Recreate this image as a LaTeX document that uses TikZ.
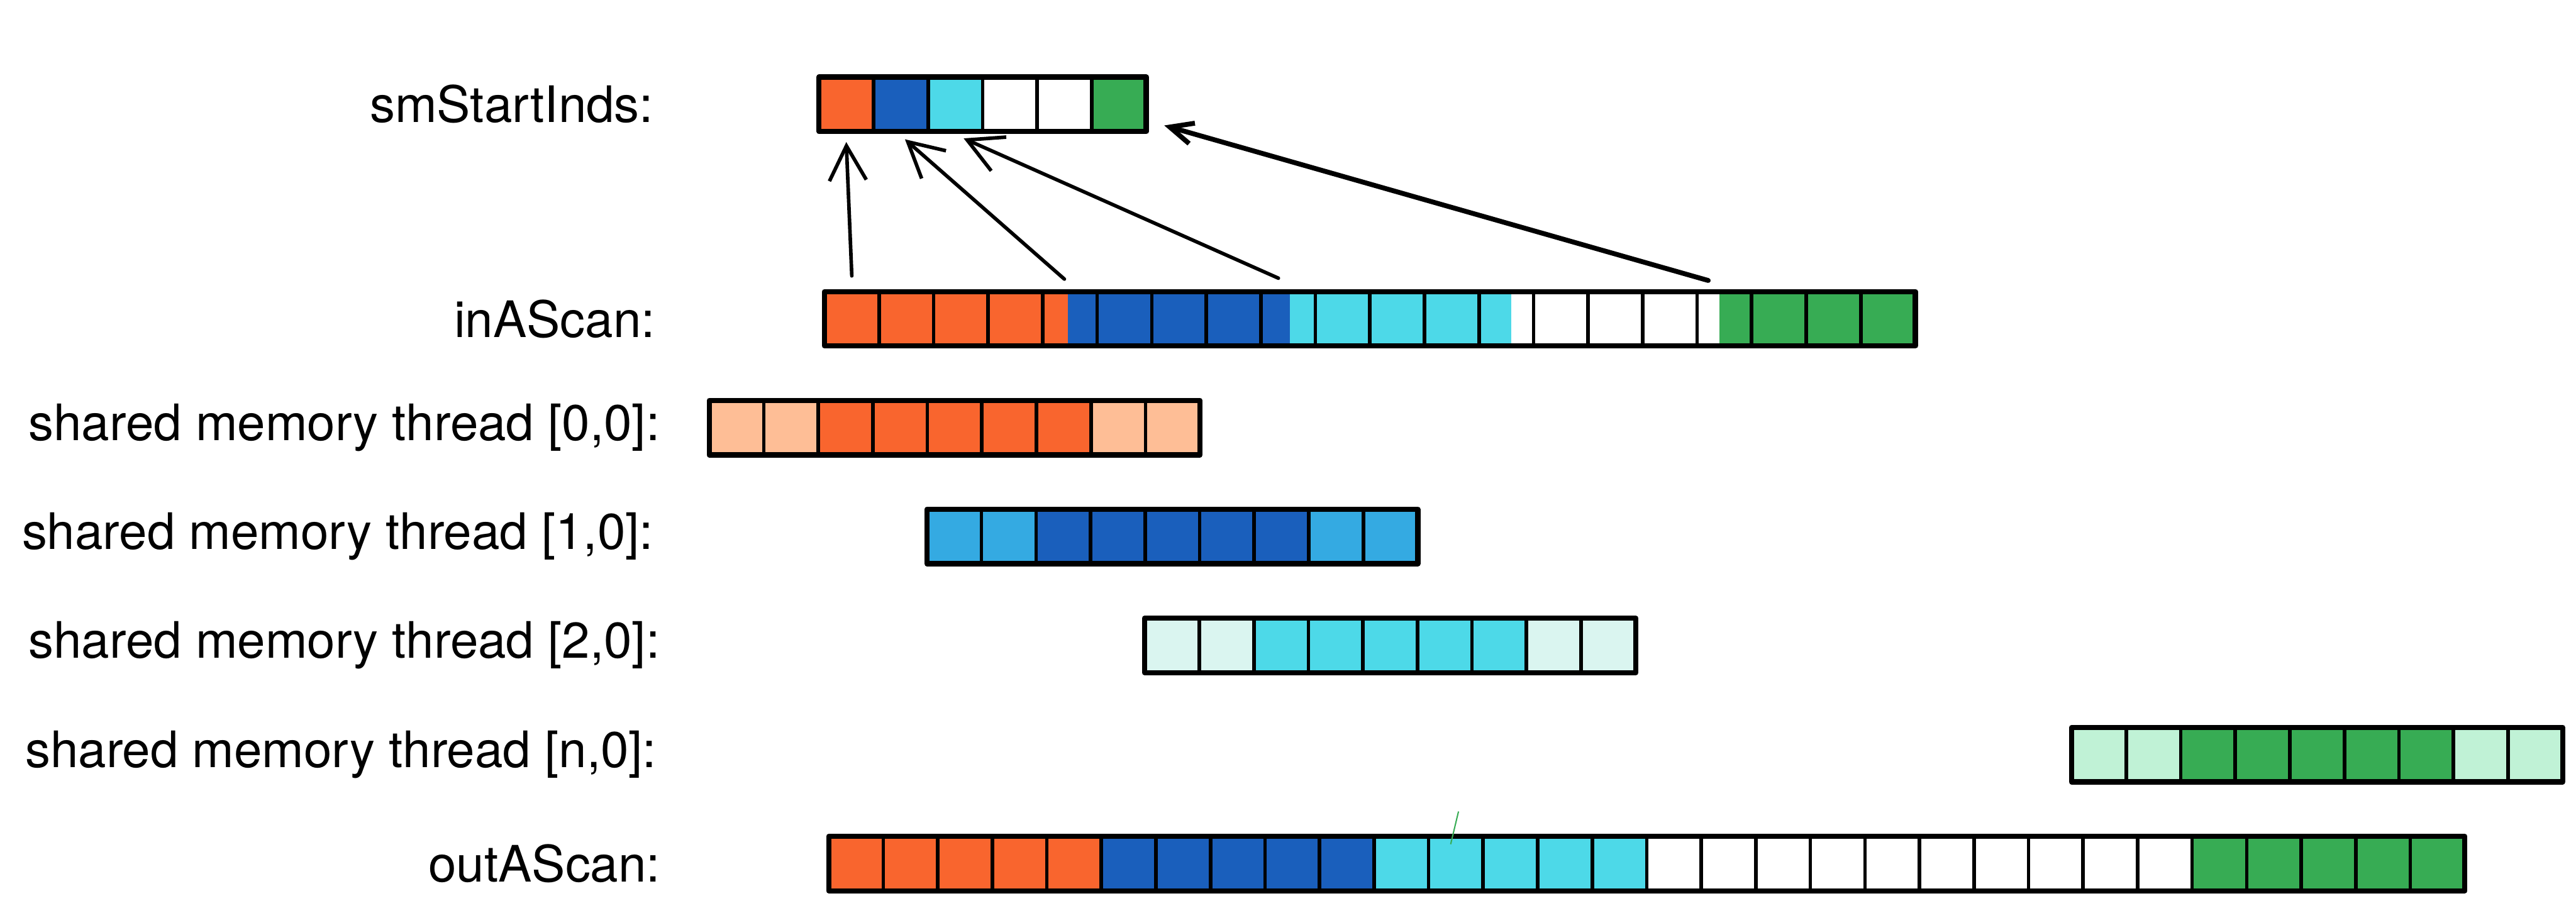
\documentclass[tikz,border=0pt]{standalone}
\usepackage{fontspec}
\setmainfont{TeX Gyre Heros}
\usetikzlibrary{arrows.meta,backgrounds}

\definecolor{orng}{RGB}{249,101,46}
\definecolor{orngL}{RGB}{254,190,150}
\definecolor{blu}{RGB}{26,95,188}
\definecolor{bluL}{RGB}{52,170,226}
\definecolor{cyn}{RGB}{77,217,232}
\definecolor{cynL}{RGB}{218,245,240}
\definecolor{grn}{RGB}{55,172,84}
\definecolor{grnL}{RGB}{192,242,214}

\begin{document}
\begin{tikzpicture}[every node/.style={font=\fontsize{31}{37}\selectfont}, cell/.style={draw, line width=2.2pt, minimum width=1.182cm, minimum height=1.18cm, inner sep=0pt, outer sep=0pt}, rim/.style={line width=3.2pt, line join=round}, lbl/.style={anchor=east, inner sep=0pt}, arr/.style={-{Straight Barb[length=7.5mm,width=8mm]}, line width=2.2pt, line cap=round}]
\useasboundingbox (0,0) rectangle (55.83,-19.78);

% labels
\node[lbl] (smLbl) at (14.17,-2.26) {smStartInds:};
\node[lbl] (inLbl) at (14.21,-6.91) {inAScan:};
\node[lbl] (sh0Lbl) at (14.31,-9.27) {shared memory thread [0,0]:};
\node[lbl] (sh1Lbl) at (14.17,-11.63) {shared memory thread [1,0]:};
\node[lbl] (sh2Lbl) at (14.31,-13.99) {shared memory thread [2,0]:};
\node[lbl] (shnLbl) at (14.24,-16.36) {shared memory thread [n,0]:};
\node[lbl] (outLbl) at (14.32,-18.72) {outAScan:};

% smStartInds
\foreach \c [count=\i from 0] in {orng,blu,cyn,white,white,grn}
  \node[cell, fill=\c] (sm\i) at ({17.75+0.591+1.182*\i},-2.26) {};
\draw[rim] (sm0.south west) rectangle (sm5.north east);

% inAScan, segments filled behind the cells
\foreach \i in {0,...,19}
  \node[cell] (in\i) at ({17.87+0.591+1.182*\i},-6.91) {};
\begin{scope}[on background layer]
\fill[orng] (in0.south west) rectangle ([xshift=5.4mm]in4.north west);
\fill[blu] ([xshift=5.4mm]in4.south west) rectangle ([xshift=6.3mm]in8.north west);
\fill[cyn] ([xshift=6.3mm]in8.south west) rectangle ([xshift=7mm]in12.north west);
\fill[grn] ([xshift=4.8mm]in16.south west) rectangle (in19.north east);
\end{scope}
\draw[rim] (in0.south west) rectangle (in19.north east);

% shared memory per thread
\foreach \r/\x/\y/\lt/\dk in {0/15.37/-9.27/orngL/orng, 1/20.09/-11.63/bluL/blu, 2/24.81/-13.99/cynL/cyn, n/44.90/-16.36/grnL/grn} {
  \foreach \c [count=\i from 0] in {\lt,\lt,\dk,\dk,\dk,\dk,\dk,\lt,\lt}
    \node[cell, fill=\c] (sh\r\i) at ({\x+0.591+1.182*\i},\y) {};
  \draw[rim] (sh\r0.south west) rectangle (sh\r8.north east);
}

% outAScan
\foreach \c [count=\k from 0] in {orng,blu,cyn,white,white,grn}
  \foreach \j in {0,...,4} {
    \pgfmathtruncatemacro\i{5*\k+\j}
    \node[cell, fill=\c] (out\i) at ({17.96+0.591+1.182*\i},-18.72) {};
  }
\draw[rim] (out0.south west) rectangle (out29.north east);
\draw[grn, line width=0.8pt] (31.61,-17.59) -- (31.44,-18.30);

% start indices
\draw[arr] ([yshift=3.4mm]in0.north) -- ([yshift=-2.3mm]sm0.south);
\draw[arr] ([xshift=4.7mm,yshift=2.7mm]in4.north west) -- ([xshift=0.9mm,yshift=-1.7mm]sm1.south);
\draw[arr] ([xshift=3.8mm,yshift=2.9mm]in8.north west) -- ([xshift=1.8mm,yshift=-1.5mm]sm2.south);
\draw[arr, line width=3pt, -{Straight Barb[length=5mm,width=4.6mm]}] ([xshift=2.4mm,yshift=2.4mm]in16.north west) -- ([xshift=3.9mm,yshift=-4.6mm]sm5.east);
\end{tikzpicture}
\end{document}
